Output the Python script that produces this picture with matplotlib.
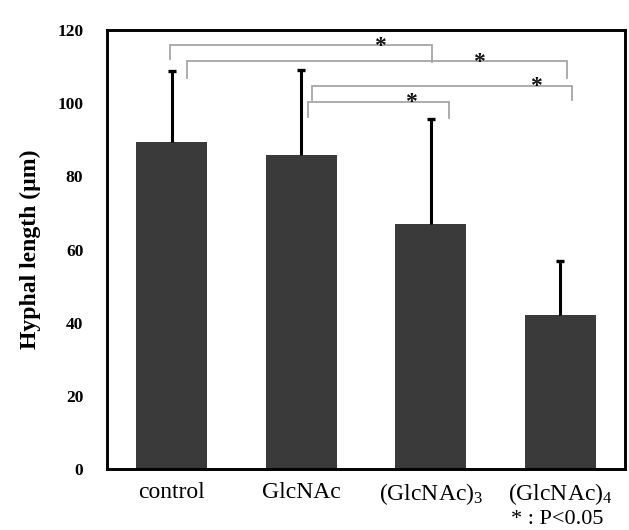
import matplotlib
matplotlib.use("Agg")
import matplotlib.pyplot as plt
import numpy as np

categories = ["control", "GlcNAc", "(GlcNAc)$_3$", "(GlcNAc)$_4$"]
means = [89.3, 86.0, 67.1, 42.2]
err_upper = [19.5, 23.0, 28.5, 14.6]
yticks = [0, 20, 40, 60, 80, 100, 120]

# significance brackets (data coords)
br_x0 = [-0.01, 0.12, 1.08, 1.05]
br_x1 = [2.01, 3.05, 3.09, 2.14]
br_top = [115.9, 111.5, 104.8, 100.3]
br_left_bot = [112.1, 107.0, 100.8, 96.3]
br_right_bot = [111.2, 107.0, 100.8, 96.0]
star_x = [1.61, 2.37, 2.81, 1.85]
star_y = [115.6, 111.3, 104.6, 100.2]

plt.rcParams['font.family'] = ['Liberation Serif', 'DejaVu Serif']
plt.rcParams['mathtext.fontset'] = 'custom'
plt.rcParams['mathtext.rm'] = 'Liberation Serif'
plt.rcParams['mathtext.it'] = 'Liberation Serif'

fig = plt.figure(figsize=(6.29, 5.30), dpi=100)
ax = fig.add_axes([0.170, 0.115, 0.824, 0.828])

x = np.arange(len(categories))
ax.bar(x, means, width=0.55, color="#3a3a3a", zorder=2)
eb = ax.errorbar(x, means, yerr=[np.zeros(len(means)), err_upper], fmt="none",
                 ecolor="black", elinewidth=2.2, capsize=2.8, capthick=2.4,
                 zorder=3)
eb[1][0].set_visible(False)

for a, b, t, lb, rb in zip(br_x0, br_x1, br_top, br_left_bot, br_right_bot):
    ax.plot([a, a, b, b], [lb, t, t, rb], color="#a6a6a6", lw=1.3, zorder=1,
            solid_joinstyle="miter")
for sx, sy in zip(star_x, star_y):
    ax.text(sx, sy, "*", ha="center", va="center", fontsize=17,
            fontweight="bold", color="#111111")

ax.set_xlim(-0.5, 3.5)
ax.set_ylim(0, 120)
ax.set_yticks(yticks)
ax.set_yticklabels([str(v) for v in yticks], fontweight="bold", fontsize=12.5)
ax.set_xticks(x)
ax.set_xticklabels(categories, fontsize=17)
ax.tick_params(axis="both", length=0)
ax.tick_params(axis="y", pad=17)
ax.tick_params(axis="x", pad=9)
for s in ax.spines.values():
    s.set_linewidth(2.1)
    s.set_color("black")

ax.set_ylabel("Hyphal length (µm)", fontsize=17, fontweight="bold", labelpad=12)

fig.text(0.812, 0.002, "* : P<0.05", fontsize=16, ha="left", va="bottom")

fig.savefig("out.png", dpi=100)
